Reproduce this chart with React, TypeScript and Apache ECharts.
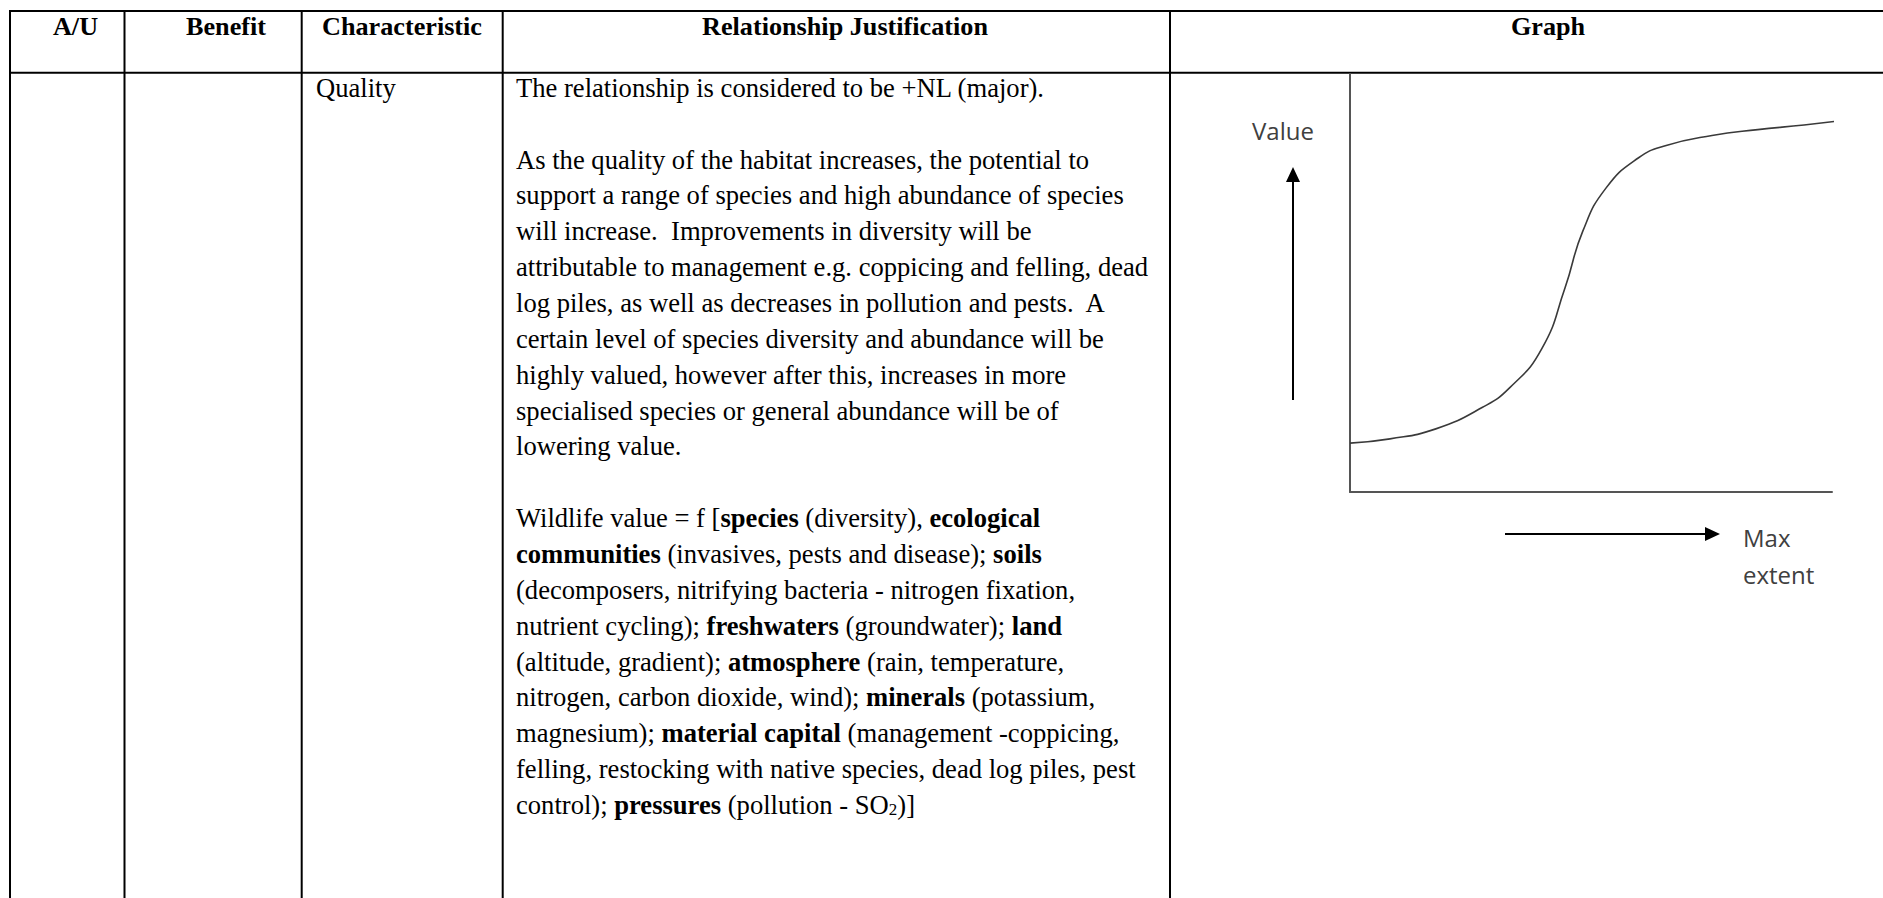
import React, { useEffect, useRef } from "react";
import * as echarts from "echarts";

// ---- data ----
const headers = ["A/U", "Benefit", "Characteristic", "Relationship Justification", "Graph"];
const headerCenters = [75.5, 226, 402, 845, 1548];
const characteristic = "Quality";
const justificationLines = [
  "The relationship is considered to be +NL (major).",
  "",
  "As the quality of the habitat increases, the potential to",
  "support a range of species and high abundance of species",
  "will increase.  Improvements in diversity will be",
  "attributable to management e.g. coppicing and felling, dead",
  "log piles, as well as decreases in pollution and pests.  A",
  "certain level of species diversity and abundance will be",
  "highly valued, however after this, increases in more",
  "specialised species or general abundance will be of",
  "lowering value.",
  "",
  "Wildlife value = f [{b|species} (diversity), {b|ecological}",
  "{b|communities} (invasives, pests and disease); {b|soils}",
  "(decomposers, nitrifying bacteria - nitrogen fixation,",
  "nutrient cycling); {b|freshwaters} (groundwater); {b|land}",
  "(altitude, gradient); {b|atmosphere} (rain, temperature,",
  "nitrogen, carbon dioxide, wind); {b|minerals} (potassium,",
  "magnesium); {b|material capital} (management -coppicing,",
  "felling, restocking with native species, dead log piles, pest",
  "control); {b|pressures} (pollution - SO{sub|2})]",
];
const curveX = [0, 8.3, 17.8, 27.4, 33.1, 39.8, 44.6, 48.3, 53.1, 59.8, 65.6, 75.1, 84.6, 94.2, 100.8];
const curveY = [11.7, 12.7, 15.1, 20.2, 24.9, 34.3, 48.8, 62.4, 72.7, 79.9, 82.9, 85.3, 86.7, 87.8, 88.7];
const yAxisLabel = "Value";
const xAxisLabel = ["Max", "extent"];

const W = 1883;
const H = 898;
const SERIF = "'Liberation Serif', 'Times New Roman', serif";
const FS = 26.6;
const HFS = 26.2;

export default function App() {
  const ref = useRef<HTMLDivElement>(null);
  useEffect(() => {
    if (!ref.current) return;
    const chart = echarts.init(ref.current, null, { renderer: "svg", width: W, height: H });

    const colX = [10, 124.5, 301.7, 502.7, 1170];
    const topY = 11;
    const headY = 72.7;
    const graphics: any[] = [];
    // table borders
    graphics.push({ type: "line", shape: { x1: colX[0] - 1, y1: topY, x2: W, y2: topY }, style: { stroke: "#000", lineWidth: 2 } });
    graphics.push({ type: "line", shape: { x1: colX[0] - 1, y1: headY, x2: W, y2: headY }, style: { stroke: "#000", lineWidth: 2 } });
    colX.forEach((cx) => {
      graphics.push({ type: "line", shape: { x1: cx, y1: topY - 1, x2: cx, y2: H }, style: { stroke: "#000", lineWidth: 2 } });
    });
    // headers
    headers.forEach((h, i) => {
      graphics.push({
        type: "text",
        x: headerCenters[i],
        y: 26.9,
        style: {
          text: h,
          fontFamily: SERIF,
          fontSize: HFS,
          fontWeight: "bold",
          fill: "#000",
          textAlign: "center",
          textVerticalAlign: "middle",
        },
      });
    });
    // characteristic
    graphics.push({
      type: "text",
      x: 316,
      y: 87.9,
      style: { text: characteristic, fontFamily: SERIF, fontSize: FS, fill: "#000", textAlign: "left", textVerticalAlign: "middle" },
    });
    // justification
    justificationLines.forEach((line, i) => {
      if (!line) return;
      graphics.push({
        type: "text",
        x: 516,
        y: 87.9 + i * 35.85,
        style: {
          text: line,
          fontFamily: SERIF,
          fontSize: FS,
          fill: "#000",
          textAlign: "left",
          textVerticalAlign: "middle",
          rich: {
            b: { fontFamily: SERIF, fontSize: FS, fontWeight: "bold", fill: "#000" },
            sub: { fontFamily: SERIF, fontSize: 17, fill: "#000", verticalAlign: "bottom", lineHeight: 15 },
          },
        },
      });
    });
    // graph annotations
    graphics.push({
      type: "text",
      x: 1252,
      y: 130,
      style: { text: yAxisLabel, fontFamily: "'Open Sans', sans-serif", fontSize: 24, fill: "#404040", textAlign: "left", textVerticalAlign: "middle" },
    });
    xAxisLabel.forEach((t, i) => {
      graphics.push({
        type: "text",
        x: 1743,
        y: 537.4 + i * 37.5,
        style: { text: t, fontFamily: "'Open Sans', sans-serif", fontSize: 24, fill: "#404040", textAlign: "left", textVerticalAlign: "middle" },
      });
    });
    // up arrow
    graphics.push({ type: "line", shape: { x1: 1293, y1: 400, x2: 1293, y2: 178 }, style: { stroke: "#000", lineWidth: 2 } });
    graphics.push({ type: "polygon", shape: { points: [[1293, 167], [1286, 182], [1300, 182]] }, style: { fill: "#000" } });
    // right arrow
    graphics.push({ type: "line", shape: { x1: 1505, y1: 534, x2: 1708, y2: 534 }, style: { stroke: "#000", lineWidth: 2 } });
    graphics.push({ type: "polygon", shape: { points: [[1720, 534], [1705, 527], [1705, 541]] }, style: { fill: "#000" } });

    const data = curveX.map((x, i) => [x, curveY[i]]);

    chart.setOption({
      animation: false,
      backgroundColor: "#fff",
      grid: { left: 1350, right: W - 1832, top: 74, bottom: H - 492, containLabel: false },
      xAxis: {
        type: "value",
        min: 0,
        max: 100,
        axisLine: { show: true, lineStyle: { color: "#555", width: 2 } },
        axisTick: { show: false },
        axisLabel: { show: false },
        splitLine: { show: false },
      },
      yAxis: {
        type: "value",
        min: 0,
        max: 100,
        axisLine: { show: true, lineStyle: { color: "#555", width: 2 } },
        axisTick: { show: false },
        axisLabel: { show: false },
        splitLine: { show: false },
      },
      series: [
        {
          type: "line",
          data,
          smooth: 0.5,
          symbol: "none",
          clip: false,
          lineStyle: { color: "#3a3a3a", width: 1.6 },
        },
      ],
      graphic: graphics,
    });
    return () => chart.dispose();
  }, []);
  return <div ref={ref} style={{ position: "absolute", left: 0, top: 0, width: W, height: H, background: "#fff" }} />;
}
